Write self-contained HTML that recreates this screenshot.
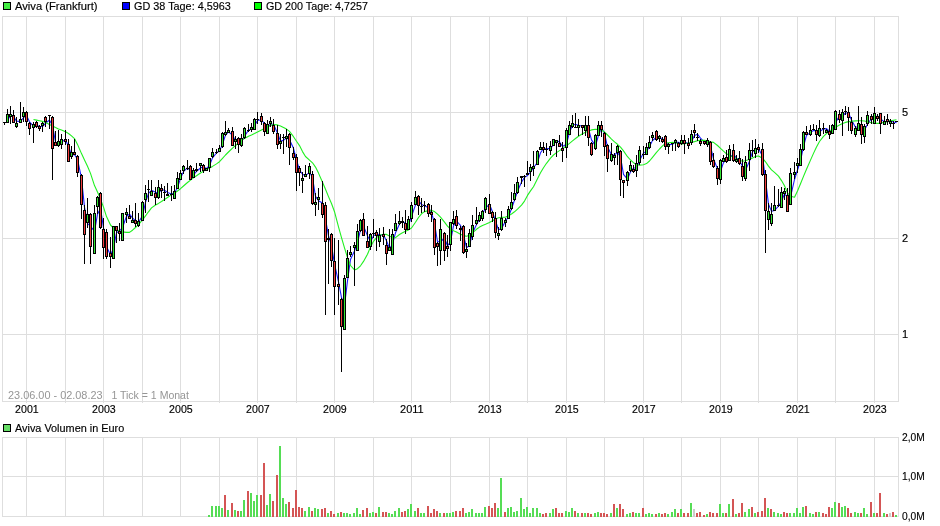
<!DOCTYPE html>
<html><head><meta charset="utf-8"><title>Aviva Chart</title>
<style>html,body{margin:0;padding:0;background:#fff}body{width:940px;height:526px;overflow:hidden;font-family:"Liberation Sans",sans-serif}</style>
</head><body>
<svg width="940" height="526" viewBox="0 0 940 526" style="display:block;will-change:transform">
<rect width="940" height="526" fill="#fff"/>
<path shape-rendering="crispEdges" fill="#dedede" d="M26,16h1v387h-1zM26,437h1v80h-1zM65,16h1v387h-1zM65,437h1v80h-1zM103,16h1v387h-1zM103,437h1v80h-1zM142,16h1v387h-1zM142,437h1v80h-1zM180,16h1v387h-1zM180,437h1v80h-1zM219,16h1v387h-1zM219,437h1v80h-1zM257,16h1v387h-1zM257,437h1v80h-1zM296,16h1v387h-1zM296,437h1v80h-1zM334,16h1v387h-1zM334,437h1v80h-1zM373,16h1v387h-1zM373,437h1v80h-1zM411,16h1v387h-1zM411,437h1v80h-1zM450,16h1v387h-1zM450,437h1v80h-1zM489,16h1v387h-1zM489,437h1v80h-1zM527,16h1v387h-1zM527,437h1v80h-1zM566,16h1v387h-1zM566,437h1v80h-1zM604,16h1v387h-1zM604,437h1v80h-1zM643,16h1v387h-1zM643,437h1v80h-1zM681,16h1v387h-1zM681,437h1v80h-1zM720,16h1v387h-1zM720,437h1v80h-1zM758,16h1v387h-1zM758,437h1v80h-1zM797,16h1v387h-1zM797,437h1v80h-1zM835,16h1v387h-1zM835,437h1v80h-1zM874,16h1v387h-1zM874,437h1v80h-1zM2,16h897v1h-897zM2,112h897v1h-897zM2,238h897v1h-897zM2,334h897v1h-897zM2,401h897v1h-897zM2,437h897v1h-897zM2,476h897v1h-897zM2,516h897v1h-897zM2,16h1v386h-1zM2,437h1v80h-1zM898,16h1v386h-1zM898,437h1v80h-1z"/>
<text x="8" y="399" fill="#959595" textLength="94.6" lengthAdjust="spacingAndGlyphs" style="font-family:&quot;Liberation Sans&quot;,sans-serif;font-size:11px">23.06.00 - 02.08.23</text>
<text x="111.4" y="399" fill="#959595" textLength="77.5" lengthAdjust="spacingAndGlyphs" style="font-family:&quot;Liberation Sans&quot;,sans-serif;font-size:11px">1 Tick = 1 Monat</text>
<path fill="none" stroke="#1a1aff" stroke-width="1.1" stroke-linejoin="round" d="M7.5,120.2 L10.5,115.7 L13.5,116.6 L16.5,121.1 L20.5,121.5 L23.5,117.6 L26.5,115.6 L29.5,121.8 L33.5,126.1 L36.5,125.3 L39.5,126.5 L42.5,126.5 L45.5,123.3 L49.5,120.0 L52.5,125.7 L55.5,141.8 L58.5,144.9 L61.5,141.4 L65.5,139.9 L68.5,146.3 L71.5,155.2 L74.5,154.5 L77.5,159.3 L81.5,178.2 L84.5,207.1 L87.5,223.3 L90.5,226.4 L94.5,231.2 L97.5,214.3 L100.5,208.3 L103.5,227.8 L106.5,246.5 L110.5,254.9 L113.5,248.1 L116.5,232.8 L119.5,230.9 L122.5,227.5 L126.5,216.3 L129.5,214.2 L132.5,217.8 L135.5,220.8 L138.5,222.3 L142.5,215.9 L145.5,202.4 L148.5,193.3 L151.5,190.3 L155.5,192.3 L158.5,193.2 L161.5,189.6 L164.5,190.2 L167.5,192.4 L171.5,193.9 L174.5,193.1 L177.5,187.5 L180.5,178.4 L183.5,171.6 L187.5,167.7 L190.5,171.0 L193.5,175.0 L196.5,171.4 L200.5,168.0 L203.5,166.6 L206.5,168.6 L209.5,165.5 L212.5,157.9 L216.5,153.0 L219.5,150.8 L222.5,144.2 L225.5,135.2 L228.5,131.9 L232.5,135.0 L235.5,140.9 L238.5,141.4 L241.5,141.5 L244.5,136.1 L248.5,130.3 L251.5,129.1 L254.5,125.6 L257.5,120.5 L261.5,119.7 L264.5,123.8 L267.5,127.5 L270.5,124.2 L273.5,124.3 L277.5,133.2 L280.5,141.1 L283.5,140.4 L286.5,137.8 L289.5,139.7 L293.5,148.3 L296.5,159.9 L299.5,170.0 L302.5,174.2 L305.5,175.7 L309.5,172.3 L312.5,177.6 L315.5,196.4 L318.5,200.8 L322.5,202.9 L325.5,218.9 L328.5,236.0 L331.5,245.4 L334.5,263.8 L338.5,281.8 L341.5,297.5 L344.5,305.8 L347.5,280.8 L350.5,259.4 L354.5,250.9 L357.5,242.4 L360.5,230.1 L363.5,225.9 L367.5,235.9 L370.5,241.5 L373.5,235.9 L376.5,233.9 L379.5,234.8 L383.5,235.2 L386.5,240.8 L389.5,248.5 L392.5,244.2 L395.5,232.8 L399.5,223.9 L402.5,221.2 L405.5,223.7 L408.5,225.1 L411.5,216.6 L415.5,204.9 L418.5,200.8 L421.5,204.4 L424.5,205.7 L428.5,207.7 L431.5,212.5 L434.5,223.5 L437.5,241.5 L440.5,242.0 L444.5,237.9 L447.5,246.0 L450.5,241.5 L453.5,225.8 L456.5,221.2 L460.5,225.4 L463.5,235.0 L466.5,247.7 L469.5,245.4 L472.5,233.3 L476.5,224.6 L479.5,219.0 L482.5,214.3 L485.5,207.8 L489.5,204.5 L492.5,211.8 L495.5,220.9 L498.5,229.8 L501.5,228.5 L505.5,221.3 L508.5,216.7 L511.5,208.7 L514.5,200.3 L517.5,191.1 L521.5,182.2 L524.5,177.4 L527.5,175.5 L530.5,172.2 L533.5,167.8 L537.5,162.2 L540.5,152.8 L543.5,148.5 L546.5,148.9 L550.5,148.4 L553.5,144.7 L556.5,140.7 L559.5,141.9 L562.5,146.5 L566.5,144.1 L569.5,132.3 L572.5,125.2 L575.5,124.2 L578.5,125.5 L582.5,125.9 L585.5,126.4 L588.5,128.7 L591.5,139.9 L595.5,145.9 L598.5,135.3 L601.5,127.7 L604.5,133.3 L607.5,146.8 L611.5,155.0 L614.5,154.9 L617.5,152.5 L620.5,156.9 L623.5,174.3 L627.5,179.1 L630.5,171.9 L633.5,168.0 L636.5,167.9 L639.5,160.5 L643.5,153.1 L646.5,151.1 L649.5,146.5 L652.5,140.5 L656.5,137.3 L659.5,138.0 L662.5,138.5 L665.5,142.0 L668.5,144.9 L672.5,144.2 L675.5,142.4 L678.5,142.3 L681.5,143.4 L684.5,142.0 L688.5,143.5 L691.5,141.6 L694.5,135.4 L697.5,134.2 L700.5,138.1 L704.5,142.3 L707.5,142.4 L710.5,146.3 L713.5,158.9 L717.5,168.9 L720.5,171.2 L723.5,162.6 L726.5,159.2 L729.5,157.5 L733.5,154.4 L736.5,158.1 L739.5,160.5 L742.5,166.5 L745.5,170.3 L749.5,161.1 L752.5,151.9 L755.5,149.2 L758.5,148.4 L762.5,155.9 L765.5,180.1 L768.5,204.1 L771.5,211.3 L774.5,210.5 L778.5,206.2 L781.5,201.2 L784.5,193.9 L787.5,197.0 L790.5,197.2 L794.5,179.5 L797.5,170.0 L800.5,161.0 L803.5,146.5 L806.5,135.4 L810.5,132.6 L813.5,130.4 L816.5,130.9 L819.5,131.7 L823.5,128.9 L826.5,128.6 L829.5,131.2 L832.5,131.0 L835.5,122.6 L839.5,115.9 L842.5,116.0 L845.5,113.0 L848.5,113.0 L851.5,120.0 L855.5,127.3 L858.5,126.7 L861.5,126.7 L864.5,129.9 L867.5,124.3 L871.5,118.5 L874.5,117.4 L877.5,116.0 L880.5,119.0 L884.5,121.9 L887.5,121.2 L890.5,121.0 L893.5,122.0 L896.5,122.6"/>
<path fill="none" stroke="#20f020" stroke-width="1.1" stroke-linejoin="round" d="M33.5,119.5 L36.5,120.1 L39.5,120.7 L42.5,121.4 L45.5,122.5 L49.5,124.5 L52.5,126.1 L55.5,127.6 L58.5,128.9 L61.5,130.1 L65.5,131.8 L68.5,133.5 L71.5,135.9 L74.5,138.6 L77.5,144.4 L81.5,153.6 L84.5,160.0 L87.5,166.3 L90.5,173.4 L94.5,185.6 L97.5,192.0 L100.5,199.2 L103.5,207.1 L106.5,216.6 L110.5,225.0 L113.5,228.0 L116.5,229.8 L119.5,231.1 L122.5,231.9 L126.5,232.4 L129.5,232.4 L132.5,230.2 L135.5,227.5 L138.5,224.6 L142.5,219.9 L145.5,215.9 L148.5,211.8 L151.5,207.9 L155.5,205.0 L158.5,203.4 L161.5,201.5 L164.5,199.5 L167.5,197.5 L171.5,194.9 L174.5,193.0 L177.5,191.0 L180.5,188.7 L183.5,186.0 L187.5,182.5 L190.5,180.1 L193.5,177.9 L196.5,175.8 L200.5,173.0 L203.5,171.1 L206.5,169.5 L209.5,168.1 L212.5,166.4 L216.5,163.9 L219.5,161.7 L222.5,158.4 L225.5,155.0 L228.5,152.0 L232.5,148.1 L235.5,145.5 L238.5,143.0 L241.5,140.6 L244.5,138.4 L248.5,136.2 L251.5,134.9 L254.5,133.5 L257.5,131.9 L261.5,129.9 L264.5,128.4 L267.5,126.9 L270.5,125.6 L273.5,124.5 L277.5,124.9 L280.5,125.9 L283.5,127.4 L286.5,129.1 L289.5,131.4 L293.5,136.7 L296.5,141.3 L299.5,145.6 L302.5,151.6 L305.5,156.5 L309.5,160.1 L312.5,162.8 L315.5,167.1 L318.5,173.1 L322.5,182.2 L325.5,189.3 L328.5,196.6 L331.5,203.5 L334.5,211.7 L338.5,226.9 L341.5,237.7 L344.5,247.8 L347.5,257.6 L350.5,265.5 L354.5,269.9 L357.5,268.7 L360.5,265.8 L363.5,261.4 L367.5,254.2 L370.5,246.9 L373.5,241.3 L376.5,237.6 L379.5,235.3 L383.5,234.2 L386.5,234.4 L389.5,236.1 L392.5,237.7 L395.5,237.6 L399.5,234.5 L402.5,232.7 L405.5,231.3 L408.5,229.9 L411.5,228.0 L415.5,222.3 L418.5,217.5 L421.5,213.8 L424.5,211.6 L428.5,210.6 L431.5,210.4 L434.5,211.6 L437.5,214.1 L440.5,217.1 L444.5,222.2 L447.5,226.2 L450.5,229.0 L453.5,230.8 L456.5,232.1 L460.5,234.2 L463.5,235.6 L466.5,236.3 L469.5,235.3 L472.5,232.9 L476.5,229.3 L479.5,227.1 L482.5,225.5 L485.5,224.3 L489.5,222.5 L492.5,220.7 L495.5,218.9 L498.5,217.7 L501.5,217.4 L505.5,217.1 L508.5,215.9 L511.5,214.0 L514.5,211.8 L517.5,209.1 L521.5,205.1 L524.5,201.1 L527.5,195.4 L530.5,190.9 L533.5,186.7 L537.5,178.8 L540.5,172.8 L543.5,167.7 L546.5,163.3 L550.5,158.2 L553.5,155.0 L556.5,152.6 L559.5,150.6 L562.5,148.8 L566.5,145.8 L569.5,143.3 L572.5,140.9 L575.5,138.5 L578.5,136.3 L582.5,133.7 L585.5,132.2 L588.5,130.9 L591.5,129.9 L595.5,129.3 L598.5,129.6 L601.5,130.2 L604.5,132.0 L607.5,135.0 L611.5,139.1 L614.5,141.9 L617.5,144.3 L620.5,147.1 L623.5,150.9 L627.5,156.7 L630.5,160.0 L633.5,162.7 L636.5,164.5 L639.5,165.1 L643.5,164.7 L646.5,163.6 L649.5,161.0 L652.5,157.4 L656.5,152.4 L659.5,149.0 L662.5,145.8 L665.5,143.3 L668.5,142.7 L672.5,142.4 L675.5,142.9 L678.5,143.5 L681.5,143.9 L684.5,143.7 L688.5,143.0 L691.5,142.3 L694.5,141.6 L697.5,140.8 L700.5,140.2 L704.5,140.4 L707.5,140.9 L710.5,141.8 L713.5,142.4 L717.5,145.5 L720.5,148.4 L723.5,151.2 L726.5,153.8 L729.5,155.5 L733.5,157.2 L736.5,158.8 L739.5,160.2 L742.5,161.3 L745.5,160.8 L749.5,159.3 L752.5,157.9 L755.5,156.4 L758.5,156.0 L762.5,158.2 L765.5,161.8 L768.5,166.1 L771.5,169.9 L774.5,172.4 L778.5,176.1 L781.5,180.6 L784.5,185.8 L787.5,192.9 L790.5,196.3 L794.5,197.2 L797.5,191.0 L800.5,183.7 L803.5,176.4 L806.5,169.3 L810.5,160.1 L813.5,153.4 L816.5,146.9 L819.5,141.5 L823.5,136.4 L826.5,133.5 L829.5,131.2 L832.5,129.2 L835.5,127.2 L839.5,125.0 L842.5,123.6 L845.5,122.4 L848.5,121.6 L851.5,121.2 L855.5,120.9 L858.5,120.8 L861.5,120.8 L864.5,121.0 L867.5,121.7 L871.5,122.8 L874.5,123.3 L877.5,123.4 L880.5,123.1 L884.5,122.2 L887.5,121.6 L890.5,120.9 L893.5,120.3 L896.5,119.8"/>
<path shape-rendering="crispEdges" fill="#000" d="M4,122h1v3h-1zM3,122h3v1h-3zM7,109h1v14h-1zM6,114h3v9h-3zM10,106h1v18h-1zM9,114h3v3h-3zM13,110h1v13h-1zM12,115h3v8h-3zM16,117h1v11h-1zM15,123h3v4h-3zM20,102h1v21h-1zM19,119h3v4h-3zM23,107h1v15h-1zM22,112h3v5h-3zM26,111h1v15h-1zM25,112h3v10h-3zM29,122h1v13h-1zM28,123h3v6h-3zM33,122h1v21h-1zM32,124h3v4h-3zM36,121h1v7h-1zM35,122h3v5h-3zM39,125h1v6h-1zM38,126h3v3h-3zM42,122h1v10h-1zM41,123h3v3h-3zM45,116h1v11h-1zM44,117h3v5h-3zM49,115h1v14h-1zM48,115h3v1h-3zM52,116h1v64h-1zM51,117h3v32h-3zM55,131h1v15h-1zM54,142h3v4h-3zM58,130h1v17h-1zM57,141h3v5h-3zM61,134h1v15h-1zM60,139h3v6h-3zM65,130h1v15h-1zM64,139h3v3h-3zM68,139h1v23h-1zM67,144h3v18h-3zM71,146h1v13h-1zM70,152h3v5h-3zM74,139h1v16h-1zM73,152h3v3h-3zM77,155h1v22h-1zM76,156h3v17h-3zM81,174h1v45h-1zM80,175h3v30h-3zM84,205h1v59h-1zM83,210h3v25h-3zM87,198h1v30h-1zM86,214h3v9h-3zM90,213h1v51h-1zM89,214h3v33h-3zM94,205h1v49h-1zM93,213h3v41h-3zM97,196h1v18h-1zM96,197h3v10h-3zM100,192h1v37h-1zM99,193h3v35h-3zM103,218h1v41h-1zM102,229h3v19h-3zM106,229h1v30h-1zM105,232h3v25h-3zM110,237h1v31h-1zM109,253h3v4h-3zM113,226h1v33h-1zM112,226h3v33h-3zM116,226h1v17h-1zM115,226h3v5h-3zM119,223h1v18h-1zM118,231h3v3h-3zM122,213h1v28h-1zM121,213h3v28h-3zM126,208h1v15h-1zM125,212h3v3h-3zM129,205h1v14h-1zM128,216h3v3h-3zM132,211h1v12h-1zM131,220h3v3h-3zM135,203h1v24h-1zM134,220h3v4h-3zM138,213h1v14h-1zM137,221h3v5h-3zM142,201h1v20h-1zM141,202h3v19h-3zM145,185h1v28h-1zM144,193h3v7h-3zM148,180h1v22h-1zM147,189h3v1h-3zM151,180h1v16h-1zM150,191h3v5h-3zM155,187h1v18h-1zM154,193h3v5h-3zM158,180h1v19h-1zM157,187h3v11h-3zM161,184h1v14h-1zM160,188h3v3h-3zM164,186h1v15h-1zM163,192h3v1h-3zM167,183h1v13h-1zM166,194h3v2h-3zM171,186h1v15h-1zM170,194h3v1h-3zM174,185h1v14h-1zM173,191h3v8h-3zM177,172h1v17h-1zM176,178h3v11h-3zM180,170h1v10h-1zM179,173h3v7h-3zM183,165h1v9h-1zM182,166h3v5h-3zM187,160h1v10h-1zM186,168h3v1h-3zM190,165h1v15h-1zM189,166h3v14h-3zM193,168h1v10h-1zM192,170h3v8h-3zM196,163h1v9h-1zM195,169h3v2h-3zM200,163h1v9h-1zM199,163h3v3h-3zM203,164h1v9h-1zM202,165h3v6h-3zM206,168h1v3h-1zM205,168h3v3h-3zM209,158h1v14h-1zM208,158h3v10h-3zM212,148h1v10h-1zM211,152h3v5h-3zM216,149h1v5h-1zM215,152h3v1h-3zM219,145h1v7h-1zM218,148h3v4h-3zM222,132h1v16h-1zM221,133h3v14h-3zM225,121h1v15h-1zM224,132h3v3h-3zM228,128h1v5h-1zM227,130h3v3h-3zM232,127h1v19h-1zM231,131h3v15h-3zM235,136h1v13h-1zM234,139h3v3h-3zM238,137h1v16h-1zM237,138h3v7h-3zM241,134h1v13h-1zM240,138h3v8h-3zM244,127h1v12h-1zM243,128h3v10h-3zM248,124h1v8h-1zM247,130h3v1h-3zM251,123h1v9h-1zM250,127h3v3h-3zM254,118h1v12h-1zM253,119h3v11h-3zM257,112h1v12h-1zM256,119h3v1h-3zM261,113h1v12h-1zM260,116h3v6h-3zM264,122h1v14h-1zM263,123h3v9h-3zM267,120h1v14h-1zM266,124h3v10h-3zM270,117h1v10h-1zM269,121h3v3h-3zM273,119h1v15h-1zM272,125h3v7h-3zM277,125h1v24h-1zM276,133h3v12h-3zM280,134h1v15h-1zM279,141h3v3h-3zM283,134h1v20h-1zM282,137h3v1h-3zM286,129h1v18h-1zM285,136h3v3h-3zM289,133h1v32h-1zM288,134h3v14h-3zM293,147h1v13h-1zM292,153h3v5h-3zM296,154h1v37h-1zM295,157h3v16h-3zM299,166h1v20h-1zM298,168h3v5h-3zM302,172h1v21h-1zM301,178h3v3h-3zM305,165h1v12h-1zM304,174h3v3h-3zM309,163h1v16h-1zM308,166h3v8h-3zM312,171h1v34h-1zM311,174h3v30h-3zM315,193h1v23h-1zM314,202h3v3h-3zM318,188h1v22h-1zM317,197h3v3h-3zM322,181h1v37h-1zM321,203h3v12h-3zM325,202h1v113h-1zM324,205h3v37h-3zM328,229h1v55h-1zM327,238h3v2h-3zM331,233h1v34h-1zM330,234h3v27h-3zM334,238h1v77h-1zM333,261h3v26h-3zM338,240h1v65h-1zM337,284h3v3h-3zM341,298h1v74h-1zM340,299h3v28h-3zM344,275h1v55h-1zM343,278h3v52h-3zM347,250h1v28h-1zM346,258h3v20h-3zM350,246h1v11h-1zM349,252h3v3h-3zM354,242h1v44h-1zM353,245h3v3h-3zM357,224h1v27h-1zM356,231h3v20h-3zM360,219h1v13h-1zM359,220h3v11h-3zM363,213h1v23h-1zM362,219h3v17h-3zM367,226h1v22h-1zM366,241h3v7h-3zM370,233h1v17h-1zM369,234h3v13h-3zM373,219h1v19h-1zM372,233h3v1h-3zM376,230h1v21h-1zM375,232h3v4h-3zM379,228h1v19h-1zM378,235h3v7h-3zM383,227h1v18h-1zM382,234h3v3h-3zM386,239h1v26h-1zM385,245h3v9h-3zM389,229h1v22h-1zM388,247h3v4h-3zM392,229h1v26h-1zM391,234h3v21h-3zM395,214h1v17h-1zM394,223h3v8h-3zM399,211h1v14h-1zM398,221h3v3h-3zM402,217h1v11h-1zM401,221h3v2h-3zM405,210h1v24h-1zM404,223h3v7h-3zM408,216h1v14h-1zM407,219h3v11h-3zM411,202h1v20h-1zM410,205h3v14h-3zM415,191h1v14h-1zM414,197h3v8h-3zM418,195h1v20h-1zM417,196h3v10h-3zM421,198h1v15h-1zM420,206h3v1h-3zM424,201h1v11h-1zM423,205h3v1h-3zM428,203h1v14h-1zM427,204h3v10h-3zM431,205h1v17h-1zM430,212h3v3h-3zM434,218h1v37h-1zM433,219h3v29h-3zM437,242h1v24h-1zM436,243h3v4h-3zM440,219h1v46h-1zM439,229h3v22h-3zM444,232h1v29h-1zM443,233h3v18h-3zM447,235h1v22h-1zM446,246h3v3h-3zM450,222h1v29h-1zM449,222h3v23h-3zM453,211h1v14h-1zM452,219h3v5h-3zM456,210h1v19h-1zM455,216h3v10h-3zM460,226h1v15h-1zM459,228h3v2h-3zM463,225h1v29h-1zM462,226h3v27h-3zM466,243h1v15h-1zM465,249h3v3h-3zM469,229h1v18h-1zM468,233h3v14h-3zM472,215h1v25h-1zM471,225h3v12h-3zM476,207h1v18h-1zM475,220h3v4h-3zM479,212h1v10h-1zM478,215h3v6h-3zM482,210h1v11h-1zM481,211h3v8h-3zM485,197h1v16h-1zM484,198h3v12h-3zM489,194h1v20h-1zM488,204h3v10h-3zM492,211h1v11h-1zM491,212h3v6h-3zM495,212h1v26h-1zM494,218h3v15h-3zM498,227h1v13h-1zM497,233h3v3h-3zM501,211h1v20h-1zM500,218h3v12h-3zM505,218h1v9h-1zM504,220h3v3h-3zM508,206h1v13h-1zM507,209h3v10h-3zM511,192h1v18h-1zM510,202h3v7h-3zM514,184h1v17h-1zM513,193h3v7h-3zM517,177h1v17h-1zM516,182h3v11h-3zM521,176h1v8h-1zM520,176h3v2h-3zM524,175h1v12h-1zM523,176h3v1h-3zM527,161h1v14h-1zM526,173h3v2h-3zM530,164h1v17h-1zM529,167h3v5h-3zM533,151h1v25h-1zM532,166h3v3h-3zM537,150h1v15h-1zM536,151h3v14h-3zM540,142h1v8h-1zM539,147h3v3h-3zM543,142h1v11h-1zM542,147h3v3h-3zM546,143h1v13h-1zM545,149h3v1h-3zM550,141h1v14h-1zM549,146h3v5h-3zM553,139h1v7h-1zM552,139h3v7h-3zM556,140h1v17h-1zM555,140h3v3h-3zM559,135h1v12h-1zM558,143h3v4h-3zM562,142h1v20h-1zM561,148h3v3h-3zM566,128h1v30h-1zM565,130h3v18h-3zM569,121h1v14h-1zM568,125h3v10h-3zM572,115h1v13h-1zM571,123h3v4h-3zM575,113h1v15h-1zM574,127h3v1h-3zM578,119h1v17h-1zM577,125h3v3h-3zM582,125h1v10h-1zM581,125h3v3h-3zM585,116h1v20h-1zM584,125h3v6h-3zM588,116h1v30h-1zM587,125h3v13h-3zM591,142h1v14h-1zM590,143h3v12h-3zM595,134h1v16h-1zM594,135h3v14h-3zM598,121h1v15h-1zM597,125h3v11h-3zM601,121h1v16h-1zM600,125h3v5h-3zM604,132h1v24h-1zM603,133h3v14h-3zM607,144h1v28h-1zM606,145h3v14h-3zM611,143h1v19h-1zM610,154h3v7h-3zM614,153h1v12h-1zM613,155h3v3h-3zM617,145h1v20h-1zM616,146h3v7h-3zM620,150h1v46h-1zM619,151h3v29h-3zM623,180h1v18h-1zM622,180h3v3h-3zM627,171h1v15h-1zM626,172h3v9h-3zM630,161h1v11h-1zM629,165h3v6h-3zM633,165h1v8h-1zM632,169h3v3h-3zM636,155h1v22h-1zM635,163h3v8h-3zM639,146h1v19h-1zM638,150h3v13h-3zM643,146h1v13h-1zM642,154h3v1h-3zM646,143h1v12h-1zM645,147h3v8h-3zM649,136h1v13h-1zM648,142h3v6h-3zM652,132h1v9h-1zM651,135h3v3h-3zM656,130h1v11h-1zM655,131h3v9h-3zM659,135h1v7h-1zM658,136h3v3h-3zM662,137h1v6h-1zM661,139h3v3h-3zM665,135h1v15h-1zM664,136h3v11h-3zM668,143h1v11h-1zM667,144h3v3h-3zM672,143h1v8h-1zM671,143h3v1h-3zM675,139h1v12h-1zM674,140h3v3h-3zM678,142h1v6h-1zM677,143h3v4h-3zM681,135h1v10h-1zM680,140h3v4h-3zM684,135h1v19h-1zM683,140h3v4h-3zM688,138h1v11h-1zM687,143h3v3h-3zM691,130h1v15h-1zM690,134h3v9h-3zM694,124h1v14h-1zM693,130h3v3h-3zM697,133h1v8h-1zM696,137h3v1h-3zM700,139h1v7h-1zM699,141h3v3h-3zM704,141h1v4h-1zM703,141h3v3h-3zM707,138h1v9h-1zM706,140h3v5h-3zM710,141h1v24h-1zM709,142h3v20h-3zM713,153h1v15h-1zM712,160h3v7h-3zM717,166h1v19h-1zM716,168h3v11h-3zM720,159h1v25h-1zM719,160h3v20h-3zM723,155h1v7h-1zM722,158h3v4h-3zM726,150h1v13h-1zM725,157h3v5h-3zM729,145h1v16h-1zM728,149h3v12h-3zM733,144h1v18h-1zM732,150h3v11h-3zM736,155h1v8h-1zM735,159h3v3h-3zM739,151h1v14h-1zM738,158h3v6h-3zM742,159h1v22h-1zM741,166h3v11h-3zM745,156h1v25h-1zM744,162h3v17h-3zM749,143h1v28h-1zM748,150h3v10h-3zM752,140h1v17h-1zM751,150h3v1h-3zM755,139h1v19h-1zM754,148h3v6h-3zM758,144h1v9h-1zM757,147h3v3h-3zM762,143h1v33h-1zM761,149h3v26h-3zM765,170h1v83h-1zM764,174h3v37h-3zM768,203h1v27h-1zM767,211h3v9h-3zM771,203h1v23h-1zM770,214h3v10h-3zM774,186h1v25h-1zM773,205h3v6h-3zM778,189h1v18h-1zM777,205h3v1h-3zM781,187h1v21h-1zM780,192h3v16h-3zM784,188h1v12h-1zM783,191h3v3h-3zM787,188h1v24h-1zM786,195h3v17h-3zM790,168h1v37h-1zM789,173h3v32h-3zM794,162h1v17h-1zM793,172h3v3h-3zM797,158h1v15h-1zM796,163h3v3h-3zM800,144h1v22h-1zM799,149h3v17h-3zM803,131h1v20h-1zM802,132h3v18h-3zM806,126h1v9h-1zM805,132h3v3h-3zM810,125h1v11h-1zM809,130h3v5h-3zM813,124h1v6h-1zM812,129h3v1h-3zM816,125h1v16h-1zM815,130h3v5h-3zM819,120h1v17h-1zM818,128h3v8h-3zM823,123h1v11h-1zM822,128h3v1h-3zM826,129h1v4h-1zM825,130h3v3h-3zM829,125h1v14h-1zM828,131h3v4h-3zM832,124h1v10h-1zM831,125h3v9h-3zM835,110h1v20h-1zM834,111h3v19h-3zM839,110h1v13h-1zM838,114h3v6h-3zM842,109h1v27h-1zM841,112h3v9h-3zM845,106h1v9h-1zM844,111h3v1h-3zM848,107h1v24h-1zM847,112h3v6h-3zM851,117h1v17h-1zM850,122h3v9h-3zM855,126h1v11h-1zM854,128h3v7h-3zM858,106h1v25h-1zM857,123h3v8h-3zM861,117h1v27h-1zM860,124h3v11h-3zM864,124h1v19h-1zM863,126h3v11h-3zM867,111h1v15h-1zM866,115h3v9h-3zM871,114h1v10h-1zM870,116h3v4h-3zM874,107h1v17h-1zM873,113h3v11h-3zM877,114h1v7h-1zM876,116h3v3h-3zM880,113h1v21h-1zM879,113h3v11h-3zM884,116h1v9h-1zM883,121h3v4h-3zM887,114h1v11h-1zM886,119h3v3h-3zM890,119h1v8h-1zM889,121h3v3h-3zM893,121h1v8h-1zM892,123h3v1h-3zM896,121h1v1h-1zM895,121h3v1h-3z"/>
<path shape-rendering="crispEdges" fill="#33e633" d="M7,115h1v7h-1zM10,115h1v1h-1zM16,124h1v2h-1zM20,120h1v2h-1zM23,113h1v3h-1zM33,125h1v2h-1zM42,124h1v1h-1zM58,142h1v3h-1zM61,140h1v4h-1zM71,153h1v3h-1zM87,215h1v7h-1zM94,214h1v39h-1zM97,198h1v8h-1zM113,227h1v31h-1zM122,214h1v26h-1zM126,213h1v1h-1zM132,221h1v1h-1zM138,222h1v3h-1zM142,203h1v17h-1zM145,194h1v5h-1zM151,192h1v3h-1zM158,188h1v9h-1zM174,192h1v6h-1zM177,179h1v9h-1zM180,174h1v5h-1zM183,167h1v3h-1zM193,171h1v6h-1zM200,164h1v1h-1zM206,169h1v1h-1zM209,159h1v8h-1zM212,153h1v3h-1zM219,149h1v2h-1zM222,134h1v12h-1zM225,133h1v1h-1zM228,131h1v1h-1zM235,140h1v1h-1zM241,139h1v6h-1zM244,129h1v8h-1zM251,128h1v1h-1zM254,120h1v9h-1zM267,125h1v8h-1zM270,122h1v1h-1zM280,142h1v1h-1zM286,137h1v1h-1zM302,179h1v1h-1zM305,175h1v1h-1zM309,167h1v6h-1zM315,203h1v1h-1zM318,198h1v1h-1zM344,279h1v50h-1zM347,259h1v18h-1zM350,253h1v1h-1zM354,246h1v1h-1zM357,232h1v18h-1zM360,221h1v9h-1zM370,235h1v11h-1zM379,236h1v5h-1zM389,248h1v2h-1zM392,235h1v19h-1zM395,224h1v6h-1zM399,222h1v1h-1zM408,220h1v9h-1zM411,206h1v12h-1zM415,198h1v6h-1zM440,230h1v20h-1zM450,223h1v21h-1zM453,220h1v3h-1zM466,250h1v1h-1zM469,234h1v12h-1zM472,226h1v10h-1zM476,221h1v2h-1zM479,216h1v4h-1zM482,212h1v6h-1zM485,199h1v10h-1zM498,234h1v1h-1zM501,219h1v10h-1zM505,221h1v1h-1zM508,210h1v8h-1zM511,203h1v5h-1zM514,194h1v5h-1zM517,183h1v9h-1zM530,168h1v3h-1zM533,167h1v1h-1zM537,152h1v12h-1zM540,148h1v1h-1zM550,147h1v3h-1zM553,140h1v5h-1zM556,141h1v1h-1zM566,131h1v16h-1zM569,126h1v8h-1zM572,124h1v2h-1zM578,126h1v1h-1zM585,126h1v4h-1zM595,136h1v12h-1zM598,126h1v9h-1zM611,155h1v5h-1zM614,156h1v1h-1zM617,147h1v5h-1zM627,173h1v7h-1zM630,166h1v4h-1zM636,164h1v6h-1zM639,151h1v11h-1zM646,148h1v6h-1zM649,143h1v4h-1zM652,136h1v1h-1zM659,137h1v1h-1zM668,145h1v1h-1zM675,141h1v1h-1zM681,141h1v2h-1zM691,135h1v7h-1zM707,141h1v3h-1zM720,161h1v18h-1zM723,159h1v2h-1zM729,150h1v10h-1zM736,160h1v1h-1zM745,163h1v15h-1zM749,151h1v8h-1zM755,149h1v4h-1zM768,212h1v7h-1zM771,215h1v8h-1zM774,206h1v4h-1zM781,193h1v14h-1zM784,192h1v1h-1zM790,174h1v30h-1zM794,173h1v1h-1zM797,164h1v1h-1zM800,150h1v15h-1zM803,133h1v16h-1zM810,131h1v3h-1zM819,129h1v6h-1zM826,131h1v1h-1zM832,126h1v7h-1zM835,112h1v17h-1zM842,113h1v7h-1zM855,129h1v5h-1zM858,124h1v6h-1zM864,127h1v9h-1zM867,116h1v7h-1zM874,114h1v9h-1zM884,122h1v2h-1zM890,122h1v1h-1z"/>
<path shape-rendering="crispEdges" fill="#f03c3c" d="M13,116h1v6h-1zM26,113h1v8h-1zM29,124h1v4h-1zM36,123h1v3h-1zM39,127h1v1h-1zM45,118h1v3h-1zM52,118h1v30h-1zM55,143h1v2h-1zM65,140h1v1h-1zM68,145h1v16h-1zM74,153h1v1h-1zM77,157h1v15h-1zM81,176h1v28h-1zM84,211h1v23h-1zM90,215h1v31h-1zM100,194h1v33h-1zM103,230h1v17h-1zM106,233h1v23h-1zM110,254h1v2h-1zM116,227h1v3h-1zM119,232h1v1h-1zM129,217h1v1h-1zM135,221h1v2h-1zM155,194h1v3h-1zM161,189h1v1h-1zM190,167h1v12h-1zM203,166h1v4h-1zM232,132h1v13h-1zM238,139h1v5h-1zM261,117h1v4h-1zM264,124h1v7h-1zM273,126h1v5h-1zM277,134h1v10h-1zM289,135h1v12h-1zM293,154h1v3h-1zM296,158h1v14h-1zM299,169h1v3h-1zM312,175h1v28h-1zM322,204h1v10h-1zM325,206h1v35h-1zM331,235h1v25h-1zM334,262h1v24h-1zM338,285h1v1h-1zM341,300h1v26h-1zM363,220h1v15h-1zM367,242h1v5h-1zM376,233h1v2h-1zM383,235h1v1h-1zM386,246h1v7h-1zM405,224h1v5h-1zM418,197h1v8h-1zM428,205h1v8h-1zM431,213h1v1h-1zM434,220h1v27h-1zM437,244h1v2h-1zM444,234h1v16h-1zM447,247h1v1h-1zM456,217h1v8h-1zM463,227h1v25h-1zM489,205h1v8h-1zM492,213h1v4h-1zM495,219h1v13h-1zM543,148h1v1h-1zM559,144h1v2h-1zM562,149h1v1h-1zM582,126h1v1h-1zM588,126h1v11h-1zM591,144h1v10h-1zM601,126h1v3h-1zM604,134h1v12h-1zM607,146h1v12h-1zM620,152h1v27h-1zM623,181h1v1h-1zM633,170h1v1h-1zM656,132h1v7h-1zM662,140h1v1h-1zM665,137h1v9h-1zM678,144h1v2h-1zM684,141h1v2h-1zM688,144h1v1h-1zM694,131h1v1h-1zM700,142h1v1h-1zM704,142h1v1h-1zM710,143h1v18h-1zM713,161h1v5h-1zM717,169h1v9h-1zM726,158h1v3h-1zM733,151h1v9h-1zM739,159h1v4h-1zM742,167h1v9h-1zM758,148h1v1h-1zM762,150h1v24h-1zM765,175h1v35h-1zM787,196h1v15h-1zM806,133h1v1h-1zM816,131h1v3h-1zM829,132h1v2h-1zM839,115h1v4h-1zM848,113h1v4h-1zM851,123h1v7h-1zM861,125h1v9h-1zM871,117h1v2h-1zM877,117h1v1h-1zM880,114h1v9h-1zM887,120h1v1h-1z"/>
<path shape-rendering="crispEdges" fill="#55dd55" d="M208,515h2v2h-2zM211,506h2v11h-2zM215,506h2v11h-2zM218,506h2v11h-2zM221,508h2v9h-2zM227,510h2v7h-2zM234,510h2v7h-2zM240,511h2v6h-2zM243,500h2v17h-2zM250,493h2v24h-2zM253,501h2v16h-2zM256,495h2v22h-2zM266,505h2v12h-2zM269,494h2v23h-2zM279,446h2v71h-2zM282,498h2v19h-2zM285,504h2v13h-2zM304,511h2v6h-2zM308,507h2v10h-2zM314,508h2v9h-2zM317,509h2v8h-2zM327,513h2v4h-2zM337,513h2v4h-2zM343,513h2v4h-2zM346,513h2v4h-2zM349,514h2v3h-2zM353,513h2v4h-2zM356,508h2v9h-2zM359,514h2v3h-2zM369,513h2v4h-2zM372,512h2v5h-2zM378,507h2v10h-2zM388,513h2v4h-2zM391,514h2v3h-2zM394,511h2v6h-2zM398,508h2v9h-2zM407,509h2v8h-2zM410,504h2v13h-2zM414,511h2v6h-2zM420,513h2v4h-2zM423,513h2v4h-2zM439,513h2v4h-2zM446,513h2v4h-2zM449,513h2v4h-2zM452,512h2v5h-2zM465,513h2v4h-2zM468,512h2v5h-2zM471,509h2v8h-2zM475,513h2v4h-2zM478,513h2v4h-2zM481,513h2v4h-2zM484,507h2v10h-2zM497,508h2v9h-2zM500,478h2v39h-2zM507,508h2v9h-2zM510,507h2v10h-2zM513,512h2v5h-2zM516,511h2v6h-2zM520,498h2v19h-2zM523,509h2v8h-2zM526,507h2v10h-2zM529,513h2v4h-2zM532,508h2v9h-2zM536,508h2v9h-2zM539,513h2v4h-2zM549,513h2v4h-2zM552,509h2v8h-2zM565,511h2v6h-2zM568,512h2v5h-2zM571,508h2v9h-2zM577,513h2v4h-2zM584,513h2v4h-2zM594,513h2v4h-2zM597,512h2v5h-2zM610,513h2v4h-2zM616,508h2v9h-2zM626,514h2v3h-2zM629,513h2v4h-2zM635,513h2v4h-2zM638,513h2v4h-2zM645,514h2v3h-2zM648,513h2v4h-2zM651,514h2v3h-2zM658,513h2v4h-2zM667,514h2v3h-2zM671,512h2v5h-2zM674,509h2v8h-2zM680,509h2v8h-2zM690,503h2v14h-2zM706,514h2v3h-2zM719,504h2v13h-2zM722,513h2v4h-2zM728,504h2v13h-2zM735,514h2v3h-2zM744,512h2v5h-2zM748,509h2v8h-2zM754,513h2v4h-2zM767,508h2v9h-2zM773,512h2v5h-2zM777,513h2v4h-2zM780,514h2v3h-2zM789,513h2v4h-2zM793,513h2v4h-2zM796,508h2v9h-2zM799,513h2v4h-2zM802,507h2v10h-2zM809,513h2v4h-2zM812,514h2v3h-2zM818,512h2v5h-2zM831,508h2v9h-2zM834,502h2v15h-2zM841,507h2v10h-2zM844,506h2v11h-2zM854,512h2v5h-2zM857,513h2v4h-2zM863,508h2v9h-2zM866,514h2v3h-2zM873,513h2v4h-2zM883,513h2v4h-2zM895,515h2v2h-2z"/>
<path shape-rendering="crispEdges" fill="#d45555" d="M224,495h2v22h-2zM231,503h2v14h-2zM237,511h2v6h-2zM247,491h2v26h-2zM260,495h2v22h-2zM263,463h2v54h-2zM272,501h2v16h-2zM276,475h2v42h-2zM288,502h2v15h-2zM292,508h2v9h-2zM295,490h2v27h-2zM298,507h2v10h-2zM301,508h2v9h-2zM311,511h2v6h-2zM321,509h2v8h-2zM324,508h2v9h-2zM330,511h2v6h-2zM333,514h2v3h-2zM340,512h2v5h-2zM362,510h2v7h-2zM366,508h2v9h-2zM375,513h2v4h-2zM382,512h2v5h-2zM385,512h2v5h-2zM401,512h2v5h-2zM404,511h2v6h-2zM417,508h2v9h-2zM427,506h2v11h-2zM430,513h2v4h-2zM433,509h2v8h-2zM436,511h2v6h-2zM443,513h2v4h-2zM455,511h2v6h-2zM459,511h2v6h-2zM462,508h2v9h-2zM488,506h2v11h-2zM491,508h2v9h-2zM494,503h2v14h-2zM504,512h2v5h-2zM542,514h2v3h-2zM545,513h2v4h-2zM555,508h2v9h-2zM558,513h2v4h-2zM561,513h2v4h-2zM574,511h2v6h-2zM581,513h2v4h-2zM587,513h2v4h-2zM590,514h2v3h-2zM600,513h2v4h-2zM603,513h2v4h-2zM606,514h2v3h-2zM613,504h2v13h-2zM619,504h2v13h-2zM622,509h2v8h-2zM632,512h2v5h-2zM642,508h2v9h-2zM655,514h2v3h-2zM661,514h2v3h-2zM664,513h2v4h-2zM677,513h2v4h-2zM683,513h2v4h-2zM687,513h2v4h-2zM696,513h2v4h-2zM699,512h2v5h-2zM703,515h2v2h-2zM709,512h2v5h-2zM712,513h2v4h-2zM716,513h2v4h-2zM725,513h2v4h-2zM732,499h2v18h-2zM738,513h2v4h-2zM741,503h2v14h-2zM751,507h2v10h-2zM757,512h2v5h-2zM761,511h2v6h-2zM764,498h2v19h-2zM770,509h2v8h-2zM783,512h2v5h-2zM786,513h2v4h-2zM805,506h2v11h-2zM815,512h2v5h-2zM822,513h2v4h-2zM825,514h2v3h-2zM828,507h2v10h-2zM838,503h2v14h-2zM847,508h2v9h-2zM850,513h2v4h-2zM860,513h2v4h-2zM870,502h2v15h-2zM876,513h2v4h-2zM879,493h2v24h-2zM886,514h2v3h-2zM892,512h2v5h-2z"/>
<path shape-rendering="crispEdges" fill="#cccccc" d="M693,509h2v8h-2zM889,513h2v4h-2z"/>
<rect shape-rendering="crispEdges" x="3.5" y="2.5" width="7" height="7" fill="#44ee44" stroke="#000" stroke-width="1"/>
<text x="15" y="10" fill="#000" stroke="#000" stroke-width="0.15" textLength="82.5" lengthAdjust="spacingAndGlyphs" style="font-family:&quot;Liberation Sans&quot;,sans-serif;font-size:11px">Aviva (Frankfurt)</text>
<rect shape-rendering="crispEdges" x="122.5" y="2.5" width="7" height="7" fill="#0000ff" stroke="#000" stroke-width="1"/>
<text x="134" y="10" fill="#000" stroke="#000" stroke-width="0.15" textLength="96.8" lengthAdjust="spacingAndGlyphs" style="font-family:&quot;Liberation Sans&quot;,sans-serif;font-size:11px">GD 38 Tage: 4,5963</text>
<rect shape-rendering="crispEdges" x="254.5" y="2.5" width="7" height="7" fill="#00ff00" stroke="#000" stroke-width="1"/>
<text x="266" y="10" fill="#000" stroke="#000" stroke-width="0.15" textLength="102.0" lengthAdjust="spacingAndGlyphs" style="font-family:&quot;Liberation Sans&quot;,sans-serif;font-size:11px">GD 200 Tage: 4,7257</text>
<rect shape-rendering="crispEdges" x="3.5" y="424.5" width="7" height="7" fill="#66dd66" stroke="#000" stroke-width="1"/>
<text x="15" y="432" fill="#000" stroke="#000" stroke-width="0.15" textLength="109.2" lengthAdjust="spacingAndGlyphs" style="font-family:&quot;Liberation Sans&quot;,sans-serif;font-size:11px">Aviva Volumen in Euro</text>
<text x="902" y="116" fill="#000" stroke="#000" stroke-width="0.15" style="font-family:&quot;Liberation Sans&quot;,sans-serif;font-size:11px">5</text>
<text x="902" y="242" fill="#000" stroke="#000" stroke-width="0.15" style="font-family:&quot;Liberation Sans&quot;,sans-serif;font-size:11px">2</text>
<text x="902" y="338" fill="#000" stroke="#000" stroke-width="0.15" style="font-family:&quot;Liberation Sans&quot;,sans-serif;font-size:11px">1</text>
<text x="902" y="441" fill="#000" stroke="#000" stroke-width="0.15" textLength="22.8" lengthAdjust="spacingAndGlyphs" style="font-family:&quot;Liberation Sans&quot;,sans-serif;font-size:11px">2,0M</text>
<text x="902" y="480" fill="#000" stroke="#000" stroke-width="0.15" textLength="22.8" lengthAdjust="spacingAndGlyphs" style="font-family:&quot;Liberation Sans&quot;,sans-serif;font-size:11px">1,0M</text>
<text x="902" y="520" fill="#000" stroke="#000" stroke-width="0.15" textLength="22.8" lengthAdjust="spacingAndGlyphs" style="font-family:&quot;Liberation Sans&quot;,sans-serif;font-size:11px">0,0M</text>
<text x="15.1" y="413" fill="#000" stroke="#000" stroke-width="0.15" textLength="23.6" lengthAdjust="spacingAndGlyphs" style="font-family:&quot;Liberation Sans&quot;,sans-serif;font-size:11px">2001</text>
<text x="92.1" y="413" fill="#000" stroke="#000" stroke-width="0.15" textLength="23.6" lengthAdjust="spacingAndGlyphs" style="font-family:&quot;Liberation Sans&quot;,sans-serif;font-size:11px">2003</text>
<text x="169.1" y="413" fill="#000" stroke="#000" stroke-width="0.15" textLength="23.6" lengthAdjust="spacingAndGlyphs" style="font-family:&quot;Liberation Sans&quot;,sans-serif;font-size:11px">2005</text>
<text x="246.1" y="413" fill="#000" stroke="#000" stroke-width="0.15" textLength="23.6" lengthAdjust="spacingAndGlyphs" style="font-family:&quot;Liberation Sans&quot;,sans-serif;font-size:11px">2007</text>
<text x="323.1" y="413" fill="#000" stroke="#000" stroke-width="0.15" textLength="23.6" lengthAdjust="spacingAndGlyphs" style="font-family:&quot;Liberation Sans&quot;,sans-serif;font-size:11px">2009</text>
<text x="400.1" y="413" fill="#000" stroke="#000" stroke-width="0.15" textLength="23.6" lengthAdjust="spacingAndGlyphs" style="font-family:&quot;Liberation Sans&quot;,sans-serif;font-size:11px">2011</text>
<text x="478.1" y="413" fill="#000" stroke="#000" stroke-width="0.15" textLength="23.6" lengthAdjust="spacingAndGlyphs" style="font-family:&quot;Liberation Sans&quot;,sans-serif;font-size:11px">2013</text>
<text x="555.1" y="413" fill="#000" stroke="#000" stroke-width="0.15" textLength="23.6" lengthAdjust="spacingAndGlyphs" style="font-family:&quot;Liberation Sans&quot;,sans-serif;font-size:11px">2015</text>
<text x="632.1" y="413" fill="#000" stroke="#000" stroke-width="0.15" textLength="23.6" lengthAdjust="spacingAndGlyphs" style="font-family:&quot;Liberation Sans&quot;,sans-serif;font-size:11px">2017</text>
<text x="709.1" y="413" fill="#000" stroke="#000" stroke-width="0.15" textLength="23.6" lengthAdjust="spacingAndGlyphs" style="font-family:&quot;Liberation Sans&quot;,sans-serif;font-size:11px">2019</text>
<text x="786.1" y="413" fill="#000" stroke="#000" stroke-width="0.15" textLength="23.6" lengthAdjust="spacingAndGlyphs" style="font-family:&quot;Liberation Sans&quot;,sans-serif;font-size:11px">2021</text>
<text x="863.1" y="413" fill="#000" stroke="#000" stroke-width="0.15" textLength="23.6" lengthAdjust="spacingAndGlyphs" style="font-family:&quot;Liberation Sans&quot;,sans-serif;font-size:11px">2023</text>
</svg>
</body></html>
